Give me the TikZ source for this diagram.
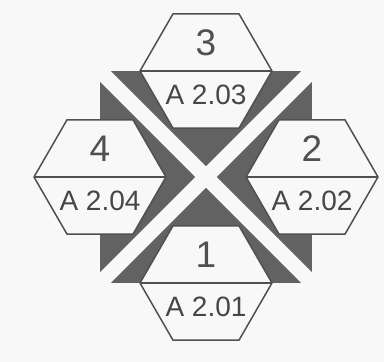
\documentclass[tikz,border=0pt]{standalone}
\usepackage{fontspec}
\setmainfont{Liberation Sans}
\usepackage{tikz}
\usetikzlibrary{calc}
\definecolor{panelgray}{RGB}{98,98,98}
\definecolor{edgegray}{RGB}{80,80,80}
\definecolor{inkgray}{RGB}{70,70,70}
\definecolor{papergray}{RGB}{248,248,248}
\tikzset{
 hexedge/.style={edgegray,line width=1.5pt,fill=papergray},
 bignum/.style={font=\fontsize{37}{37}\selectfont,text=edgegray,inner sep=0pt},
 roomlabel/.style={font=\fontsize{28}{28}\selectfont,text=inkgray,inner sep=0pt},
}

\begin{document}
\begin{tikzpicture}[x=1pt,y=1pt,line join=round]
 \fill[papergray] (0,0) rectangle (384,362);
 \useasboundingbox (0,0) rectangle (384,362);
 % Ciemny kwadrat.
 \coordinate (q0) at (100,79);
 \coordinate (q1) at (312,79);
 \coordinate (q2) at (312,291);
 \coordinate (q3) at (100,291);
 \begin{scope}
  \clip (q0) rectangle (q2);
  \fill[panelgray] (q0) rectangle (q2);
  % Przekatne.
  \draw[papergray,line width=15pt] (q0)--(q2);
  \draw[papergray,line width=15pt] (q1)--(q3);
 \end{scope}
 % Szesciokaty.
 \foreach \nm/\hx/\hy/\lab in {1/206/79/A 2.01,2/312/185/A 2.02,3/206/291/A 2.03,4/100/185/A 2.04}{
  \coordinate (h\nm) at (\hx,\hy);
  \draw[hexedge] ($(h\nm)+(0:66)$) -- ($(h\nm)+(60:66)$) -- ($(h\nm)+(120:66)$)
   -- ($(h\nm)+(180:66)$) -- ($(h\nm)+(240:66)$) -- ($(h\nm)+(300:66)$) -- cycle;
  \draw[edgegray,line width=1.5pt] ($(h\nm)+(180:66)$) -- ($(h\nm)+(0:66)$);
  \node[bignum] (n\nm) at ($(h\nm)+(0,28)$) {\nm};
  \node[roomlabel] (a\nm) at ($(h\nm)+(0,-24)$) {\lab};
 }
\end{tikzpicture}
\end{document}
